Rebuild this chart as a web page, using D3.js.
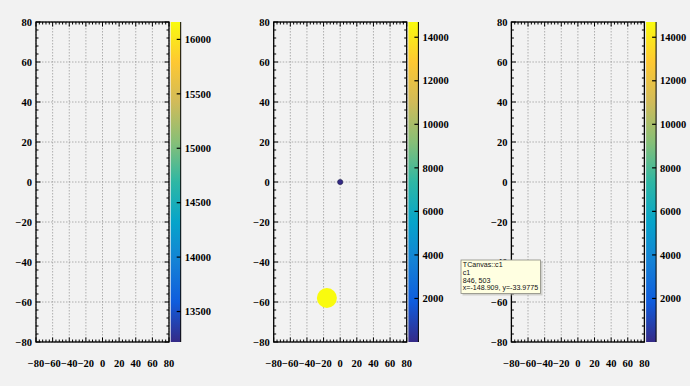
<!DOCTYPE html>
<html><head><meta charset="utf-8">
<script src="https://cdn.jsdelivr.net/npm/d3@7"></script>
<style>
html,body{margin:0;padding:0;background:#f2f2f2;}
svg{display:block;}
</style></head>
<body>
<svg id="c" width="690" height="386"></svg>
<script>
// ---- data ----
const axisTicks = [-80, -60, -40, -20, 0, 20, 40, 60, 80];
const panelZDomains = [[13220, 16160], [0, 14700], [0, 14700]];
const panelZTicks = [
  [13500, 14000, 14500, 15000, 15500, 16000],
  [2000, 4000, 6000, 8000, 10000, 12000, 14000],
  [2000, 4000, 6000, 8000, 10000, 12000, 14000]
];
const pointsX = [0, -16];
const pointsY = [0, -58];
const pointsZ = [0, 14700];
const pointPanel = [1, 1];
const tooltipLines = ["TCanvas::c1", "c1", "846, 503", "x=-148.909, y=-33.9775"];

// ROOT kBird palette
const birdStops = [0, .125, .25, .375, .5, .625, .75, .875, 1];
const birdR = [0.2082, 0.0592, 0.0780, 0.0232, 0.1802, 0.5301, 0.8186, 0.9956, 0.9764];
const birdG = [0.1664, 0.3599, 0.5041, 0.6419, 0.7178, 0.7492, 0.7328, 0.7862, 0.9832];
const birdB = [0.5293, 0.8684, 0.8385, 0.7914, 0.6425, 0.4662, 0.3499, 0.1968, 0.0539];
const birdColors = birdStops.map((s, i) => d3.rgb(birdR[i] * 255, birdG[i] * 255, birdB[i] * 255).toString());
const bird = d3.scaleLinear().domain(birdStops).range(birdColors).interpolate(d3.interpolateRgb);

const svg = d3.select("#c");
const font = "'Liberation Serif', 'Times New Roman', serif";
const lefts = [36, 273.7, 511.4];
const W = 133, pTop = 22, pBottom = 342;
const defs = svg.append("defs");
const grad = defs.append("linearGradient").attr("id", "bird").attr("x1", 0).attr("y1", 1).attr("x2", 0).attr("y2", 0);
birdStops.forEach((s, i) => grad.append("stop").attr("offset", s).attr("stop-color", birdColors[i]));

const minor = d3.range(-80, 80.1, 4);

lefts.forEach((L, p) => {
  const g = svg.append("g");
  const x = d3.scaleLinear().domain([-80, 80]).range([L, L + W]);
  const y = d3.scaleLinear().domain([-80, 80]).range([pBottom, pTop]);
  // grid
  axisTicks.forEach(t => {
    g.append("line").attr("x1", x(t)).attr("x2", x(t)).attr("y1", pTop).attr("y2", pBottom)
      .attr("stroke", "#909090").attr("stroke-width", 0.7).attr("stroke-dasharray", "1.5,1.5");
    g.append("line").attr("y1", y(t)).attr("y2", y(t)).attr("x1", L).attr("x2", L + W)
      .attr("stroke", "#909090").attr("stroke-width", 0.7).attr("stroke-dasharray", "1.5,1.5");
  });
  // ticks inward
  minor.forEach(t => {
    const maj = axisTicks.includes(Math.round(t));
    const len = maj ? 4.5 : 2.5;
    g.append("line").attr("x1", x(t)).attr("x2", x(t)).attr("y1", pBottom).attr("y2", pBottom - len).attr("stroke", "#000");
    g.append("line").attr("x1", x(t)).attr("x2", x(t)).attr("y1", pTop).attr("y2", pTop + len).attr("stroke", "#000");
    g.append("line").attr("y1", y(t)).attr("y2", y(t)).attr("x1", L).attr("x2", L + len).attr("stroke", "#000");
    g.append("line").attr("y1", y(t)).attr("y2", y(t)).attr("x1", L + W).attr("x2", L + W - len).attr("stroke", "#000");
  });
  g.append("rect").attr("x", L).attr("y", pTop).attr("width", W).attr("height", pBottom - pTop)
    .attr("fill", "none").attr("stroke", "#000").attr("stroke-width", 1.3);
  // axis labels
  const fmt = d3.format("d");
  axisTicks.forEach(t => {
    g.append("text").attr("x", L - 4).attr("y", y(t)).attr("dy", "0.35em").attr("text-anchor", "end")
      .attr("font-family", font).attr("font-weight", "bold").attr("font-size", 10.5).text(fmt(t));
    g.append("text").attr("x", x(t)).attr("y", 367).attr("text-anchor", "middle")
      .attr("font-family", font).attr("font-weight", "bold").attr("font-size", 10.5).text(fmt(t));
  });
  // colorbar
  const cx = L + W + 1.7, cw = 10;
  const z = d3.scaleLinear().domain(panelZDomains[p]).range([pBottom, pTop]);
  g.append("rect").attr("x", cx).attr("y", pTop).attr("width", cw).attr("height", pBottom - pTop).attr("fill", "url(#bird)");
  g.append("line").attr("x1", cx + cw).attr("x2", cx + cw).attr("y1", pTop).attr("y2", pBottom).attr("stroke", "#000").attr("stroke-width", 1);
  panelZTicks[p].forEach(t => {
    g.append("line").attr("x1", cx + cw).attr("x2", cx + cw - 4).attr("y1", z(t)).attr("y2", z(t)).attr("stroke", "#000").attr("stroke-width", 1.2);
    g.append("text").attr("x", cx + cw + 4).attr("y", z(t)).attr("dy", "0.35em")
      .attr("font-family", font).attr("font-weight", "bold").attr("font-size", 10.5).text(fmt(t));
  });
  // points
  const r = d3.scaleLinear().domain(panelZDomains[1]).range([2.6, 10]);
  pointsX.forEach((px, i) => {
    if (pointPanel[i] !== p) return;
    g.append("circle").attr("cx", x(px)).attr("cy", y(pointsY[i])).attr("r", r(pointsZ[i]))
      .attr("fill", bird((pointsZ[i] - z.domain()[0]) / (z.domain()[1] - z.domain()[0])))
      .attr("stroke", pointsZ[i] < 1000 ? "#1a1a4a" : "none").attr("stroke-width", 0.6);
  });
});

// tooltip (drawn on top, as in the reference screenshot)
const tt = svg.append("g").attr("transform", "translate(461,260)");
tt.append("rect").attr("x", 1.5).attr("y", 1.5).attr("width", 80).attr("height", 34).attr("fill", "#b0b0a8").attr("opacity", 0.5);
tt.append("rect").attr("x", 0).attr("y", 0).attr("width", 79.5).attr("height", 33.5).attr("fill", "#ffffe1").attr("stroke", "#8a8a80").attr("stroke-width", 0.8);
tooltipLines.forEach((s, i) => {
  tt.append("text").attr("x", 1.8).attr("y", 7.3 + i * 7.7).attr("font-family", "'Liberation Sans', Arial, sans-serif")
    .attr("font-size", 7.1).attr("fill", "#111").text(s);
});
</script>
</body></html>
